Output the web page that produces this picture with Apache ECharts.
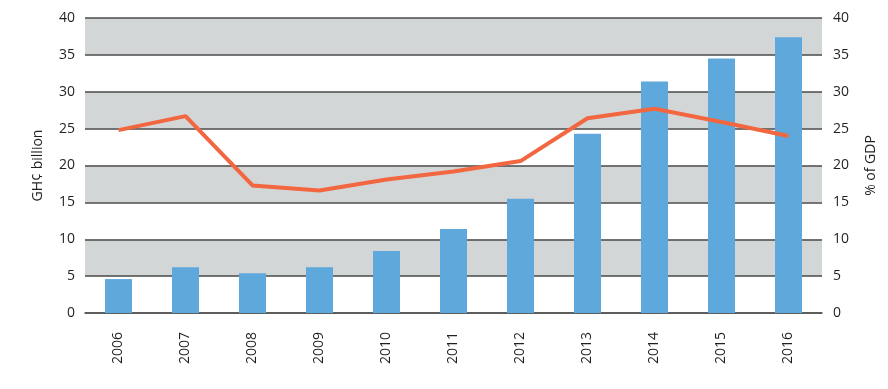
<!DOCTYPE html>
<html><head><meta charset="utf-8">
<script src="https://cdn.jsdelivr.net/npm/echarts@6/dist/echarts.min.js"></script>
<style>html,body{margin:0;padding:0;background:#fff}#c{width:888px;height:389px}</style>
</head><body><div id="c"></div>
<script>
const years = ['2006','2007','2008','2009','2010','2011','2012','2013','2014','2015','2016'];
const debtBillion = [4.6, 6.2, 5.4, 6.2, 8.4, 11.4, 15.5, 24.3, 31.4, 34.5, 37.4];
const debtPctGDP = [24.8, 26.7, 17.3, 16.6, 18.1, 19.2, 20.6, 26.4, 27.7, 25.9, 24.0];
const FONT = '"Open Sans", "Noto Sans", sans-serif';
const chart = echarts.init(document.getElementById('c'));
const yCommon = {
  type: 'value', min: 0, max: 40, interval: 5,
  nameLocation: 'middle', nameRotate: 90,
  nameTextStyle: {fontFamily: FONT, fontSize: 14, color: '#231f20'},
  axisLine: {show: false}, axisTick: {show: false},
  axisLabel: {fontFamily: FONT, fontSize: 14, color: '#231f20'}
};
chart.setOption({
  animation: false,
  grid: {left: 85, right: 66, top: 18, bottom: 76},
  xAxis: {
    type: 'category', data: years,
    axisLine: {lineStyle: {color: '#555', width: 1.5}},
    axisTick: {show: false},
    axisLabel: {rotate: 90, fontFamily: FONT, fontSize: 14, color: '#231f20', margin: 19}
  },
  yAxis: [
    Object.assign({}, yCommon, {
      name: 'GH¢ billion', nameGap: 40,
      axisLabel: Object.assign({}, yCommon.axisLabel, {margin: 10}),
      splitLine: {show: true, lineStyle: {color: '#4a4a4a', width: 1.5}},
      splitArea: {show: true, areaStyle: {color: ['#ffffff', '#d3d6d7']}}
    }),
    Object.assign({}, yCommon, {
      name: '% of GDP', nameGap: 42, position: 'right',
      axisLabel: Object.assign({}, yCommon.axisLabel, {margin: 11}),
      splitLine: {show: false}
    })
  ],
  series: [
    {type: 'bar', data: debtBillion, yAxisIndex: 0, barWidth: 27,
     itemStyle: {color: '#5fa8dc'}},
    {type: 'line', data: debtPctGDP, yAxisIndex: 1, symbol: 'none',
     lineStyle: {color: '#f26640', width: 4}}
  ]
});
</script></body></html>
